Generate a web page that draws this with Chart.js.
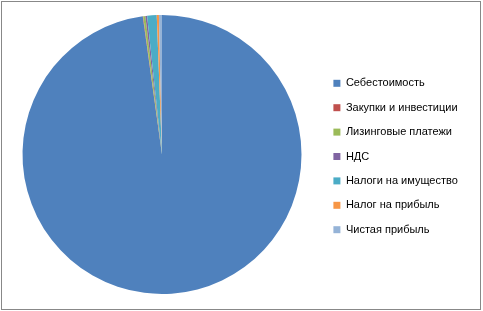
<!DOCTYPE html>
<html>
<head>
<meta charset="utf-8">
<script src="https://cdn.jsdelivr.net/npm/chart.js@4"></script>
<style>
    body { margin: 0; background: #fff; }
    #wrap { position: relative; width: 483px; height: 311px; }
</style>
</head>
<body>
<div id="wrap"><canvas id="chart" width="483" height="311"></canvas></div>
<script>
const categories = ['Себестоимость', 'Закупки и инвестиции', 'Лизинговые платежи', 'НДС',
    'Налоги на имущество', 'Налог на прибыль', 'Чистая прибыль'];
const shares = [97.6, 0.05, 0.25, 0.2, 1.1, 0.25, 0.35];
const colors = ['#4F81BD', '#C0504D', '#9BBB59', '#8064A2', '#4BACC6', '#F79646', '#95B3D7'];

// frame round the chart, like the excel chart border
const frame = {
    id: 'frame',
    beforeDraw(chart) {
        const ctx = chart.ctx;
        ctx.save();
        ctx.fillStyle = '#fff';
        ctx.fillRect(0, 0, chart.width, chart.height);
        ctx.strokeStyle = '#888888';
        ctx.lineWidth = 1;
        ctx.strokeRect(1.5, 1.5, 479, 308);
        ctx.restore();
    }
};

// fixed legend width so the pie sits where it should
const legend_width = {
    id: 'legend_width',
    beforeInit(chart) {
        const fit = chart.legend.fit;
        chart.legend.fit = function () {
            fit.bind(chart.legend)();
            this.width = 162;
        };
    },
    afterLayout(chart) {
        // nudge the legend a little, the pie stays put
        chart.legend.left -= 1;
        chart.legend.top += 2;
        chart.legend.bottom += 2;
    }
};

const ctx = document.getElementById('chart').getContext('2d');
new Chart(ctx, {
    type: 'pie',
    data: {
        labels: categories,
        datasets: [{
            data: shares,
            backgroundColor: colors,
            borderWidth: 0
        }]
    },
    options: {
        responsive: false,
        animation: false,
        layout: { padding: { left: 3, top: 15, bottom: 17, right: 0 } },
        plugins: {
            tooltip: { enabled: false },
            legend: {
                position: 'right',
                labels: {
                    boxWidth: 7,
                    boxHeight: 7,
                    padding: 13.4,
                    color: '#000',
                    font: { family: 'Liberation Sans', size: 11 }
                }
            }
        }
    },
    plugins: [frame, legend_width]
});
</script>
</body>
</html>
